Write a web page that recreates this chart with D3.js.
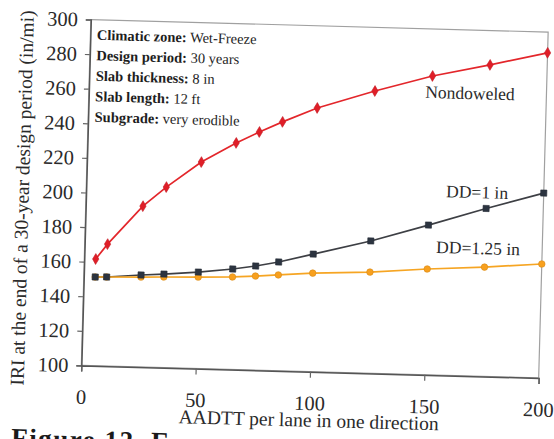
<!DOCTYPE html>
<html>
<head>
<meta charset="utf-8">
<script src="https://cdn.jsdelivr.net/npm/d3@7"></script>
<style>
  html, body { margin: 0; padding: 0; background: #fff; }
  svg { display: block; }
  svg text { font-family: "Liberation Serif", "DejaVu Serif", serif; }
</style>
</head>
<body>
<svg id="chart" width="554" height="439"></svg>
<script>
// AADTT per lane in one direction
const aadtt = [5, 10, 25, 35, 50, 65, 75, 85, 100, 125, 150, 175, 200];

// IRI at the end of the 30-year design period (in/mi)
const nondoweled = [161.7, 170.5, 193, 204.4, 219.4, 231, 237.7, 243.9, 252.5, 263.2, 272.8, 280.1, 288];
const dd1 = [151.3, 151.5, 153.2, 154.1, 155.8, 158.1, 160.2, 162.9, 168, 176.5, 186.6, 197.1, 206.9];
const dd125 = [151.3, 151.5, 152, 152.4, 152.9, 153.5, 154.4, 155.4, 157, 158.5, 161.2, 163.2, 165.9];

const xTicks = [0, 50, 100, 150, 200];
const yTicks = [100, 120, 140, 160, 180, 200, 220, 240, 260, 280, 300];

const notes = [
  ["Climatic zone:", " Wet-Freeze"],
  ["Design period:", " 30 years"],
  ["Slab thickness:", " 8 in"],
  ["Slab length:", " 12 ft"],
  ["Subgrade:", " very erodible"],
];

const series = [
  { name: "Nondoweled", values: nondoweled, color: "#e3262b", mark: "#e01e28", shape: d3.symbolDiamond, size: 34, label: [166.6, 263.6] },
  { name: "DD=1 in", values: dd1, color: "#3d3f44", mark: "#2c3440", shape: d3.symbolSquare, size: 38, label: [170.9, 206.5] },
  { name: "DD=1.25 in", values: dd125, color: "#f6a523", mark: "#f8a01e", shape: d3.symbolCircle, size: 34, label: [172, 174.1] },
];

const margin = { top: 25.75, right: 10.5, bottom: 67.25, left: 86 };
const width = 554, height = 439;
const tilt = 1.57; // the scanned page sits slightly rotated
const serif = "Liberation Serif, DejaVu Serif, serif";

const x = d3.scaleLinear().domain([0, 200]).range([margin.left, width - margin.right]);
const y = d3.scaleLinear().domain([100, 300]).range([height - margin.bottom, margin.top]);

const svg = d3.select("#chart");
const g = svg.append("g")
  .attr("transform", `rotate(${tilt},314.75,198.75)`);

// frame: light top/right, darker axes
g.append("rect")
  .attr("x", x(0)).attr("y", y(300))
  .attr("width", x(200) - x(0)).attr("height", y(100) - y(300))
  .attr("fill", "none").attr("stroke", "#a0a0a0").attr("stroke-width", 1.2);

const xAxis = g.append("g")
  .attr("transform", `translate(0,${y(100)})`)
  .call(d3.axisBottom(x).tickValues(xTicks).tickSize(6).tickPadding(18));
const yAxis = g.append("g")
  .attr("transform", `translate(${x(0)},0)`)
  .call(d3.axisLeft(y).tickValues(yTicks).tickSize(5).tickPadding(8));

[xAxis, yAxis].forEach((a) => {
  a.attr("font-family", serif);
  a.select(".domain").attr("stroke", "#555").attr("stroke-width", 1.5);
  a.selectAll(".tick line").attr("stroke", "#666").attr("stroke-width", 1.2);
  a.selectAll(".tick text")
    .attr("fill", "#2a2a2a")
    .attr("font-family", serif)
    .attr("font-size", 20.5);
});

// lines and markers
const line = d3.line()
  .x((d, i) => x(aadtt[i]))
  .y((d) => y(d));

series.forEach((s) => {
  g.append("path")
    .datum(s.values)
    .attr("fill", "none")
    .attr("stroke", s.color)
    .attr("stroke-width", 1.7)
    .attr("d", line);
});

series.slice().reverse().forEach((s) => {
  g.append("g")
    .selectAll("path")
    .data(s.values)
    .join("path")
    .attr("transform", (d, i) => `translate(${x(aadtt[i])},${y(d)})`)
    .attr("d", d3.symbol().type(s.shape).size(s.size))
    .attr("fill", s.mark)
    .attr("stroke", d3.color(s.mark).darker(0.4))
    .attr("stroke-width", 0.6);
});

// series labels
g.append("g")
  .selectAll("text")
  .data(series)
  .join("text")
  .attr("x", (d) => x(d.label[0]))
  .attr("y", (d) => y(d.label[1]))
  .attr("dy", "0.35em")
  .attr("text-anchor", "middle")
  .attr("fill", "#2a2a2a")
  .attr("font-family", serif)
  .attr("font-size", 17.5)
  .text((d) => d.name);

// notes box
const notesG = g.append("g").attr("transform", `translate(${x(0) + 6.5},${y(300) + 15})`);
notesG.selectAll("text")
  .data(notes)
  .join("text")
  .attr("y", (d, i) => i * 20.5)
  .attr("dy", "0.35em")
  .attr("fill", "#1e1e1e")
  .attr("font-family", serif)
  .attr("font-size", 14.5)
  .call((t) => t.append("tspan").attr("font-weight", "bold").text((d) => d[0]))
  .call((t) => t.append("tspan").text((d) => d[1]));

// axis titles
g.append("text")
  .attr("x", (x(0) + x(200)) / 2)
  .attr("y", 420)
  .attr("dy", "0.35em")
  .attr("text-anchor", "middle")
  .attr("fill", "#2a2a2a")
  .attr("font-family", serif)
  .attr("font-size", 19.5)
  .text("AADTT per lane in one direction");

g.append("text")
  .attr("transform", "translate(22,206) rotate(-90)")
  .attr("dy", "0.35em")
  .attr("text-anchor", "middle")
  .attr("fill", "#2a2a2a")
  .attr("font-family", serif)
  .attr("font-size", 19.5)
  .text("IRI at the end of a 30-year design period (in/mi)");

// caption, cut off by the page edge as in the scan
g.append("text")
  .attr("x", 18)
  .attr("y", 455)
  .attr("fill", "#1a1a1a")
  .attr("font-weight", "bold")
  .attr("font-family", serif)
  .attr("font-size", 27)
  .attr("letter-spacing", 1.5)
  .text("Figure 12. E");
</script>
</body>
</html>
